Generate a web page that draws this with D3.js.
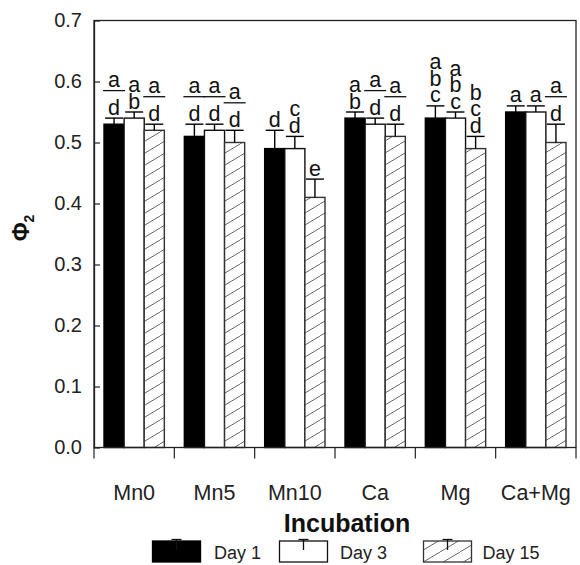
<!DOCTYPE html>
<html>
<head>
<meta charset="utf-8">
<script src="https://cdn.jsdelivr.net/npm/d3@7"></script>
<style>
  html, body { margin: 0; padding: 0; background: #fff; }
  svg { display: block; font-family: "Liberation Sans", Arial, sans-serif; }
</style>
</head>
<body>
<svg id="chart" width="580" height="565"></svg>
<script>
// Treatments and incubation days
const categories = ["Mn0", "Mn5", "Mn10", "Ca", "Mg", "Ca+Mg"];
const seriesNames = ["Day 1", "Day 3", "Day 15"];

// Mean Φ2 per treatment
const day1 = [0.53, 0.51, 0.49, 0.54, 0.54, 0.55];
const day3 = [0.54, 0.52, 0.49, 0.53, 0.54, 0.55];
const day15 = [0.52, 0.50, 0.41, 0.51, 0.49, 0.50];

// Standard errors (upper whisker only)
const err1 = [0.01, 0.02, 0.03, 0.01, 0.02, 0.01];
const err3 = [0.01, 0.01, 0.02, 0.01, 0.01, 0.01];
const err15 = [0.01, 0.02, 0.03, 0.02, 0.02, 0.03];

// Significance letters, top to bottom; "|" marks a separator rule
const letters1 = ["a|d", "a|d", "d", "ab", "abc", "a"];
const letters3 = ["ab", "a|d", "cd", "a|d", "abc", "a"];
const letters15 = ["a|d", "a|d", "e", "a|d", "bcd", "a|d"];

const yTicks = [0, 0.1, 0.2, 0.3, 0.4, 0.5, 0.6, 0.7];

(function draw() {
  const svg = d3.select("#chart");
  const mLeft = 94, mRight = 576, mTop = 20.5, mBottom = 447.5;

  const x0 = d3.scaleBand().domain(categories).range([mLeft, mRight]).padding(0);
  const bw = x0.bandwidth();
  const x1 = d3.scaleBand().domain(seriesNames).range([10, bw - 10]).padding(0);
  const y = d3.scaleLinear().domain([0, 0.7]).range([mBottom, mTop]);

  // Diagonal hatch for Day 15
  const defs = svg.append("defs");
  const pat = defs.append("pattern")
    .attr("id", "hatch")
    .attr("patternUnits", "userSpaceOnUse")
    .attr("width", 20).attr("height", 12);
  pat.append("rect").attr("width", 20).attr("height", 12).attr("fill", "#fff");
  pat.append("path")
    .attr("d", "M-2,13.2 L22,-1.2")
    .attr("stroke", "#555").attr("stroke-width", 0.9);

  const styles = {
    "Day 1": { fill: "#000", stroke: "#000" },
    "Day 3": { fill: "#fff", stroke: "#111" },
    "Day 15": { fill: "url(#hatch)", stroke: "#333" }
  };

  const rows = [];
  const seriesVals = [day1, day3, day15];
  const seriesErr = [err1, err3, err15];
  const seriesLet = [letters1, letters3, letters15];
  categories.forEach((c, i) => {
    seriesNames.forEach((s, j) => {
      rows.push({ cat: c, series: s, v: seriesVals[j][i], e: seriesErr[j][i], l: seriesLet[j][i] });
    });
  });

  const g = svg.append("g");
  const cxOf = d => x0(d.cat) + x1(d.series) + x1.bandwidth() / 2;

  // Bars
  g.selectAll("rect.bar").data(rows).join("rect")
    .attr("class", "bar")
    .attr("x", d => x0(d.cat) + x1(d.series))
    .attr("y", d => y(d.v))
    .attr("width", x1.bandwidth())
    .attr("height", d => y(0) - y(d.v))
    .attr("fill", d => styles[d.series].fill)
    .attr("stroke", d => styles[d.series].stroke)
    .attr("stroke-width", 1.4);

  // Error bars
  const capW = 18;
  const eb = g.selectAll("g.err").data(rows).join("g").attr("class", "err");
  eb.append("line")
    .attr("x1", cxOf).attr("x2", cxOf)
    .attr("y1", d => y(d.v)).attr("y2", d => y(d.v + d.e))
    .attr("stroke", "#000").attr("stroke-width", 1.4);
  eb.append("line")
    .attr("x1", d => cxOf(d) - capW / 2)
    .attr("x2", d => cxOf(d) + capW / 2)
    .attr("y1", d => y(d.v + d.e)).attr("y2", d => y(d.v + d.e))
    .attr("stroke", "#000").attr("stroke-width", 1.4);

  // Letters above whiskers
  const letterSize = 21.5, step = 16.5;
  rows.forEach(d => {
    const cx = cxOf(d);
    const base = y(d.v + d.e) - 3.5;
    const parts = d.l.split("|");
    const lower = parts[parts.length - 1].split("").reverse();
    lower.forEach((ch, k) => {
      g.append("text").attr("x", cx).attr("y", base - k * step)
        .attr("text-anchor", "middle").attr("font-size", letterSize).attr("fill", "#111").text(ch);
    });
    if (parts.length > 1) {
      const topBase = base - (lower.length - 1) * step;
      const ly = topBase - 24;
      g.append("line").attr("x1", cx - 11).attr("x2", cx + 11)
        .attr("y1", ly).attr("y2", ly).attr("stroke", "#111").attr("stroke-width", 1.3);
      const upper = parts[0].split("").reverse();
      upper.forEach((ch, k) => {
        g.append("text").attr("x", cx).attr("y", ly - 4 - k * step)
          .attr("text-anchor", "middle").attr("font-size", letterSize).attr("fill", "#111").text(ch);
      });
    }
  });

  // Frame
  svg.append("rect").attr("x", mLeft).attr("y", mTop)
    .attr("width", mRight - mLeft).attr("height", mBottom - mTop)
    .attr("fill", "none").attr("stroke", "#222").attr("stroke-width", 1.3);

  // Y axis
  const yAxis = d3.axisLeft(y).tickValues(yTicks).tickFormat(d3.format(".1f"))
    .tickSizeInner(-6).tickSizeOuter(0).tickPadding(12);
  const ya = svg.append("g").attr("transform", `translate(${mLeft},0)`).call(yAxis);
  ya.select(".domain").attr("stroke", "#222").attr("stroke-width", 1.3);
  ya.selectAll(".tick line").attr("stroke", "#222").attr("stroke-width", 1.2);
  ya.selectAll(".tick text").attr("font-size", 20).attr("fill", "#222")
    .attr("font-family", "Liberation Sans, Arial, sans-serif");

  // X axis: ticks at group boundaries, labels centred
  const bounds = categories.map(c => x0(c)).concat([mRight]);
  svg.append("g").selectAll("line").data(bounds).join("line")
    .attr("x1", d => d).attr("x2", d => d)
    .attr("y1", mBottom).attr("y2", mBottom + 11)
    .attr("stroke", "#222").attr("stroke-width", 1.2);
  svg.append("g").selectAll("text").data(categories).join("text")
    .attr("x", d => x0(d) + bw / 2).attr("y", 500)
    .attr("text-anchor", "middle").attr("font-size", 21.5).attr("fill", "#222").text(d => d);

  // Axis titles
  svg.append("text").attr("x", 347).attr("y", 531.5)
    .attr("text-anchor", "middle").attr("font-size", 25).attr("font-weight", "bold")
    .attr("fill", "#111").text("Incubation");

  const yt = svg.append("text")
    .attr("transform", "translate(28.5,228) rotate(-90)")
    .attr("text-anchor", "middle").attr("font-size", 23).attr("font-weight", "bold").attr("fill", "#111");
  yt.append("tspan").text("Φ");
  yt.append("tspan").attr("font-size", 14).attr("dy", 5).text("2");

  // Legend
  const legendItems = [
    { s: "Day 1", x: 152.5, tx: 214 },
    { s: "Day 3", x: 279.5, tx: 340 },
    { s: "Day 15", x: 423.5, tx: 482.5 }
  ];
  const lg = svg.append("g");
  legendItems.forEach(it => {
    lg.append("rect").attr("x", it.x).attr("y", 541).attr("width", 48).attr("height", 21)
      .attr("fill", styles[it.s].fill).attr("stroke", styles[it.s].stroke).attr("stroke-width", 1.3);
    const cx = it.x + 24;
    lg.append("line").attr("x1", cx - 5).attr("x2", cx + 5).attr("y1", 539.5).attr("y2", 539.5)
      .attr("stroke", "#111").attr("stroke-width", 1.3);
    lg.append("line").attr("x1", cx).attr("x2", cx).attr("y1", 539.5).attr("y2", 550)
      .attr("stroke", "#111").attr("stroke-width", 1.3);
    lg.append("text").attr("x", it.tx).attr("y", 559).attr("font-size", 18).attr("fill", "#222").text(it.s);
  });
})();
</script>
</body>
</html>
